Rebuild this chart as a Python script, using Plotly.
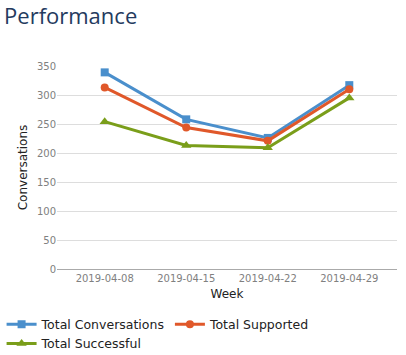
import plotly.graph_objects as go

weeks = ["2019-04-08", "2019-04-15", "2019-04-22", "2019-04-29"]
total_conversations = [339, 258, 226, 317]
total_supported = [313, 244, 221, 310]
total_successful = [254, 213, 209, 295]

fig = go.Figure()
fig.add_trace(go.Scatter(x=weeks, y=total_conversations, name="Total Conversations",
                         mode="lines+markers", line=dict(color="#4a8fcc", width=3),
                         marker=dict(symbol="square", size=8, color="#4a8fcc")))
fig.add_trace(go.Scatter(x=weeks, y=total_supported, name="Total Supported",
                         mode="lines+markers", line=dict(color="#e0582a", width=3),
                         marker=dict(symbol="circle", size=8, color="#e0582a")))
fig.add_trace(go.Scatter(x=weeks, y=total_successful, name="Total Successful",
                         mode="lines+markers", line=dict(color="#7a9e1a", width=3),
                         marker=dict(symbol="triangle-up", size=9, color="#7a9e1a")))

fig.update_layout(
    width=406, height=355,
    margin=dict(l=57, r=9, t=66, b=86, autoexpand=False),
    paper_bgcolor="white", plot_bgcolor="white",
    font=dict(family="DejaVu Sans", size=10, color="#222"),
    title=dict(text="Performance", x=0.01, xref="container", y=0.975, yref="container",
               xanchor="left", yanchor="top", pad=dict(t=0, l=0),
               font=dict(family="Open Sans", size=22, color="#243a5e")),
    showlegend=True,
    legend=dict(orientation="h", x=-0.163, xanchor="left", y=-0.20, yanchor="top",
                font=dict(size=12.5, color="#222"), tracegroupgap=0, itemwidth=30),
)
fig.update_xaxes(type="category", range=[-0.585, 3.585], showgrid=False,
                 showline=True, linecolor="#aaa", linewidth=1, ticks="",
                 tickfont=dict(size=10, color="#808080"),
                 title=dict(text="Week", font=dict(size=12, color="#222"), standoff=6))
fig.update_yaxes(range=[0, 350], dtick=50, showgrid=True, gridcolor="#ddd", zeroline=False,
                 showline=False, ticks="", ticklen=0,
                 tickfont=dict(size=10, color="#808080"),
                 title=dict(text="Conversations", font=dict(size=12, color="#222"), standoff=6))

fig.write_html("out.html", config={"displayModeBar": False},
               post_script="document.body.style.margin='0';")
